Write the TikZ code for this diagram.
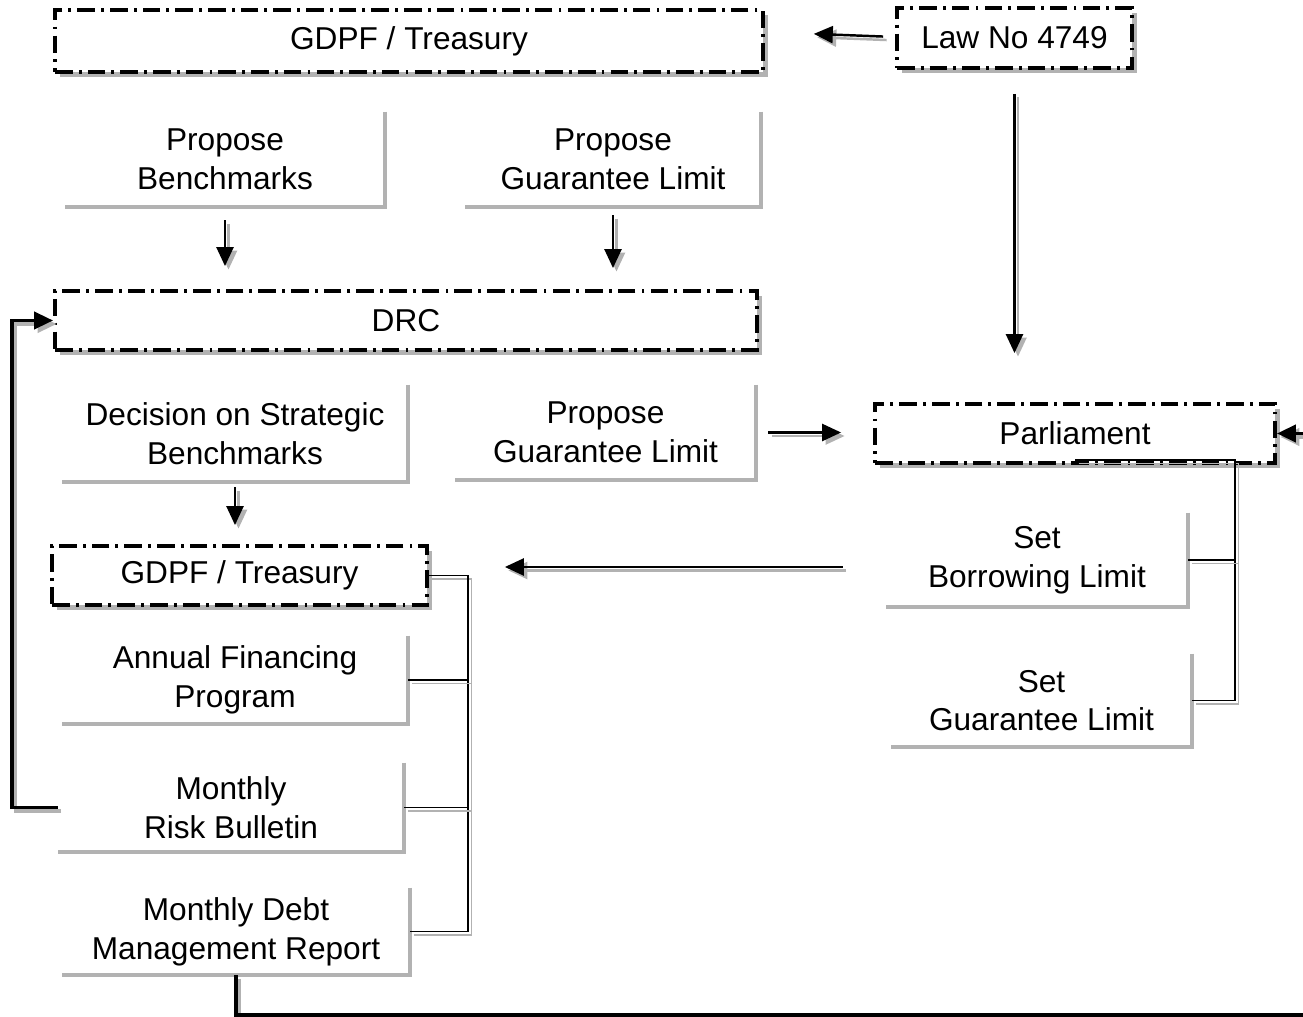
\documentclass[tikz,border=0pt]{standalone}
\usepackage{fontspec}
\setmainfont{Liberation Sans}
\usetikzlibrary{arrows.meta,shadows}
\definecolor{shadegray}{RGB}{178,178,178}
\newcommand{\twindraw}[2]{%
  \draw[#1,shadegray,transform canvas={shift={(0.07cm,-0.07cm)}}] #2;
  \draw[#1] #2;}

\begin{document}
\begin{tikzpicture}[x=0.02cm,y=-0.02cm,font=\fontsize{18}{22}\selectfont]
\tikzset{
  dashbox/.style={draw, fill=white, line width=2.2pt,
    dash pattern=on 10pt off 3.5pt on 1.6pt off 3.5pt,
    drop shadow={shadow xshift=0.1cm, shadow yshift=-0.1cm, fill=shadegray, opacity=1},
    inner sep=0pt},
  textbox/.style={inner sep=0pt, align=center},
  lshade/.style={shadegray, line width=2.4pt},
  arr/.style={line width=1.4pt, -{Triangle[length=0.38cm,width=0.34cm]}},
  link/.style={line width=0.9pt},
  loopline/.style={line width=2.2pt, -{Triangle[length=0.38cm,width=0.34cm]}}
}
\useasboundingbox (0,0) rectangle (1303,1017);

% boxes
\node[dashbox, minimum width=14.16cm, minimum height=1.24cm] (gdpftop) at (409,41) {GDPF / Treasury};
\node[dashbox, minimum width=4.7cm, minimum height=1.2cm] (law) at (1014.5,38) {Law No 4749};
\node[dashbox, minimum width=14.04cm, minimum height=1.18cm] (drc) at (406,320.5) {DRC};
\node[dashbox, minimum width=8cm, minimum height=1.18cm] (parl) at (1075,433.5) {Parliament};
\node[dashbox, minimum width=7.5cm, minimum height=1.18cm] (gdpflow) at (239.5,575.5) {GDPF / Treasury};

% texts
\node[textbox, minimum width=6.4cm, minimum height=1.9cm] (bench) at (225,159.5) {Propose\\Benchmarks};
\node[textbox, minimum width=5.92cm, minimum height=1.9cm] (propone) at (613,159.5) {Propose\\Guarantee Limit};
\node[textbox, minimum width=6.92cm, minimum height=1.94cm] (decision) at (235,433.5) {Decision on Strategic\\Benchmarks};
\node[textbox, minimum width=6.02cm, minimum height=1.9cm] (proptwo) at (605.5,432.5) {Propose\\Guarantee Limit};
\node[textbox, minimum width=6.04cm, minimum height=1.88cm] (borrow) at (1037,560) {Set\\Borrowing Limit};
\node[textbox, minimum width=6.02cm, minimum height=1.86cm] (setguar) at (1041.5,700.5) {Set\\Guarantee Limit};
\node[textbox, minimum width=6.92cm, minimum height=1.76cm] (annual) at (235,680) {Annual Financing\\Program};
\node[textbox, minimum width=6.92cm, minimum height=1.78cm] (risk) at (231,807.5) {Monthly\\Risk Bulletin};
\node[textbox, minimum width=6.96cm, minimum height=1.74cm] (report) at (236,931.5) {Monthly Debt\\Management Report};

\foreach \n in {bench,propone,decision,proptwo,borrow,setguar,annual,risk,report}
  \draw[lshade] (\n.north east) |- (\n.south west);

% arrows
\twindraw{arr, shorten <=0.24cm, shorten >=0.98cm}{([yshift=0.02cm]law.west) -- ([yshift=0.18cm]gdpftop.east)}
\twindraw{arr, shorten <=0.48cm, shorten >=0.98cm}{(law.south) -- (law.south |- parl.north)}
\twindraw{arr, shorten <=0.26cm, shorten >=0.46cm}{(bench.south) -- (bench.south |- drc.north)}
\twindraw{arr, shorten <=0.16cm, shorten >=0.42cm}{(propone.south) -- (propone.south |- drc.north)}
\twindraw{arr, shorten <=0.24cm, shorten >=0.64cm}{(proptwo.east) -- (proptwo.east -| parl.west)}
\twindraw{arr, shorten <=0.1cm, shorten >=0.38cm}{(decision.south) -- (decision.south |- gdpflow.north)}
\coordinate (bl) at ([yshift=-0.14cm]borrow.west);
\twindraw{arr, shorten <=0.86cm, shorten >=1.52cm}{(bl) -- (bl -| gdpflow.east)}

% brackets
\coordinate (pbx) at (1235,0);
\twindraw{link}{([yshift=0.1cm]parl.south) -| (setguar.east -| pbx) -- (setguar.east)}
\twindraw{link}{(borrow.east) -- (borrow.east -| pbx)}
\coordinate (gbx) at (468,0);
\twindraw{link}{(gdpflow.east) -| (report.east -| gbx) -- (report.east)}
\twindraw{link}{(annual.east) -- (annual.east -| gbx)}
\twindraw{link}{(risk.east) -- (risk.east -| gbx)}

% feedback lines
\coordinate (lpx) at (12,0);
\twindraw{loopline}{(risk.west) -- (risk.west -| lpx) |- (drc.west)}
\coordinate (bpt) at (1330,1015);
\twindraw{loopline}{(report.south) |- (bpt) |- (parl.east)}
\end{tikzpicture}
\end{document}
